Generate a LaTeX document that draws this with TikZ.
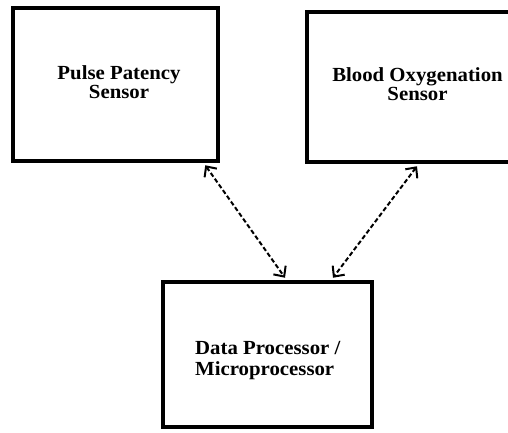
\documentclass[tikz,border=0pt]{standalone}
\usepackage{fontspec}
\setmainfont{Liberation Serif}[FakeStretch=1.04]
\usetikzlibrary{arrows.meta}
\begin{document}
\begin{tikzpicture}[x=1pt,y=-1pt,
  blockbox/.style={draw=black, line width=4.5pt, fill=white, inner sep=0pt},
  blocktext/.style={inner sep=0pt, font=\fontsize{20}{17.5}\selectfont\bfseries},
  link/.style={dashed, dash pattern=on 4.5pt off 2.5pt, line width=2pt,
    {Straight Barb[length=8pt,width=15pt,line width=2pt]}-{Straight Barb[length=8pt,width=15pt,line width=2pt]}}]
\useasboundingbox (0,0) rectangle (508,433);
\clip (0,0) rectangle (508,433);
\fill[white] (0,0) rectangle (508,433);
% boxes
\node[blockbox, minimum width=205pt, minimum height=153pt] (b1) at (115.5,84.5) {};
\node[blockbox, minimum width=220pt, minimum height=150pt] (b2) at (417,87) {};
\node[blockbox, minimum width=209pt, minimum height=145pt] (b3) at (267.5,354.5) {};
% texts
\node[blocktext, align=center] (t1) at (119,82.3) {Pulse Patency\\Sensor};
\node[blocktext, align=center] (t2) at (417.5,84.4) {Blood Oxygenation\\Sensor};
\node[blocktext, align=left, anchor=west, font=\fontsize{20}{21}\selectfont\bfseries] (t3) at (195,360.3) {Data Processor /\\Microprocessor};
% connectors
\draw[link] ([xshift=-15pt,yshift=-2pt]b1.south east) -- ([xshift=17.5pt,yshift=2pt]b3.north);
\draw[link] ([yshift=-2pt]b2.south) -- ([xshift=65.5pt,yshift=2pt]b3.north);
\end{tikzpicture}
\end{document}
